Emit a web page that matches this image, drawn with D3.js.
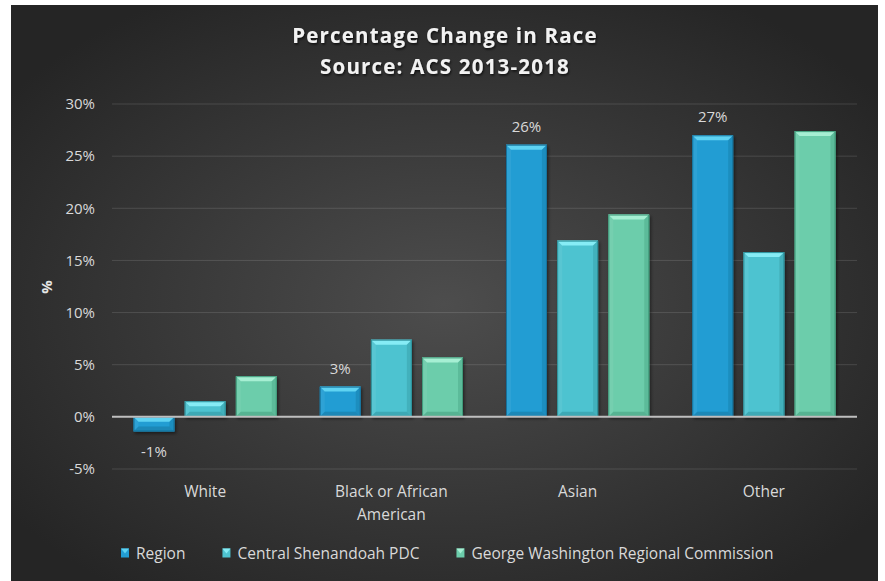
<!DOCTYPE html>
<html lang='en'>

<head>
    <meta charset='UTF-8'>
    <title>Percentage Change in Race</title>
    <script src="https://cdn.jsdelivr.net/npm/d3@7/dist/d3.min.js"></script>
    <style>
        body { margin: 0; background: #ffffff; }
        text { font-family: "Open Sans", "Noto Sans", sans-serif; }
    </style>
</head>

<body>
    <svg class="chart"></svg>
</body>
<script>
    /**
     * data
     */
    const categories = ["White", "Black or African American", "Asian", "Other"];
    const seriesNames = ["Region", "Central Shenandoah PDC", "George Washington Regional Commission"];
    const regionValues = [-1.4, 2.9, 26.1, 27.0];
    const centralShenandoahValues = [1.5, 7.4, 16.9, 15.8];
    const georgeWashingtonValues = [3.9, 5.7, 19.4, 27.4];
    const regionLabels = ["-1%", "3%", "26%", "27%"];
    const yTicks = [-5, 0, 5, 10, 15, 20, 25, 30];

    const allSeries = [regionValues, centralShenandoahValues, georgeWashingtonValues];

    /**
     * basic config
     */
    const svgWidth = 885;
    const svgHeight = 581;
    const colors = {
        "Region": { base: "#229dd3", top: "#5fd3f2", edge: "#16739c" },
        "Central Shenandoah PDC": { base: "#4ec3d0", top: "#86ecf5", edge: "#2d8f99" },
        "George Washington Regional Commission": { base: "#6ccdab", top: "#a6efd3", edge: "#3f9a7a" }
    };

    const svg = d3.select(".chart")
        .attr("width", svgWidth)
        .attr("height", svgHeight)
        .style("display", "block");

    const defs = svg.append("defs");
    const bg = defs.append("radialGradient")
        .attr("id", "bg")
        .attr("cx", "50%").attr("cy", "52%").attr("r", "62%");
    bg.append("stop").attr("offset", "0%").attr("stop-color", "#4d4d4d");
    bg.append("stop").attr("offset", "100%").attr("stop-color", "#252525");

    const shadow = defs.append("filter").attr("id", "shadow")
        .attr("x", "-20%").attr("y", "-20%").attr("width", "150%").attr("height", "150%");
    shadow.append("feDropShadow")
        .attr("dx", 1.5).attr("dy", 2).attr("stdDeviation", 1.8)
        .attr("flood-color", "#000").attr("flood-opacity", 0.45);

    const titleShadow = defs.append("filter").attr("id", "tshadow");
    titleShadow.append("feDropShadow")
        .attr("dx", 1).attr("dy", 1.5).attr("stdDeviation", 1.2)
        .attr("flood-color", "#000").attr("flood-opacity", 0.7);

    // chart background
    svg.append("rect")
        .attr("x", 11).attr("y", 5)
        .attr("width", 867).attr("height", 576)
        .attr("fill", "url(#bg)");

    /**
     * scales
     */
    const x = d3.scaleBand()
        .domain(categories)
        .range([112, 857]);

    const xSub = d3.scaleBand()
        .domain(seriesNames)
        .range([0, x.bandwidth()])
        .paddingInner(0.2)
        .paddingOuter(0.42);

    const y = d3.scaleLinear()
        .domain([-5, 30])
        .range([469, 104]);

    // gridlines
    svg.append("g")
        .selectAll("line")
        .data(yTicks.filter(d => d !== 0))
        .join("line")
        .attr("x1", 112).attr("x2", 857)
        .attr("y1", d => y(d)).attr("y2", d => y(d))
        .attr("stroke", "#ffffff")
        .attr("stroke-opacity", 0.13)
        .attr("stroke-width", 1);

    // y axis labels
    const yAxis = svg.append("g")
        .attr("transform", "translate(112,0)")
        .call(d3.axisLeft(y).tickValues(yTicks).tickSize(0).tickPadding(17).tickFormat(d => d + "%"));
    yAxis.select(".domain").remove();
    yAxis.selectAll("text")
        .attr("fill", "#d9d9d9")
        .style("font-size", "15px")
        .style("font-family", "'Open Sans', sans-serif");

    svg.append("text")
        .attr("transform", "translate(52,287) rotate(-90)")
        .attr("text-anchor", "middle")
        .attr("fill", "#e6e6e6")
        .style("font-size", "15px")
        .style("font-weight", "bold")
        .text("%");

    /**
     * bars
     */
    const bevel = 5;
    const barRows = [];
    seriesNames.forEach((s, si) => {
        categories.forEach((c, ci) => {
            barRows.push({ series: s, category: c, value: allSeries[si][ci] });
        });
    });

    const barGroups = svg.append("g")
        .selectAll("g")
        .data(barRows)
        .join("g")
        .attr("filter", "url(#shadow)");

    barGroups.each(function (d) {
        const g = d3.select(this);
        const c = colors[d.series];
        const x0 = x(d.category) + xSub(d.series);
        const w = xSub.bandwidth();
        const yTop = y(Math.max(0, d.value));
        const yBot = y(Math.min(0, d.value));
        const h = yBot - yTop;
        const b = Math.min(bevel, h / 2);

        g.append("rect")
            .attr("x", x0).attr("y", yTop)
            .attr("width", w).attr("height", h)
            .attr("fill", c.base);
        // top bevel
        g.append("polygon")
            .attr("points", [[x0, yTop], [x0 + w, yTop], [x0 + w - b, yTop + b], [x0 + b, yTop + b]].join(" "))
            .attr("fill", c.top);
        // side bevels
        g.append("polygon")
            .attr("points", [[x0 + w, yTop], [x0 + w, yBot], [x0 + w - b, yBot - b], [x0 + w - b, yTop + b]].join(" "))
            .attr("fill", c.edge).attr("fill-opacity", 0.35);
        g.append("polygon")
            .attr("points", [[x0, yTop], [x0, yBot], [x0 + b, yBot - b], [x0 + b, yTop + b]].join(" "))
            .attr("fill", "#ffffff").attr("fill-opacity", 0.06);
        g.append("polygon")
            .attr("points", [[x0, yBot], [x0 + w, yBot], [x0 + w - b, yBot - b], [x0 + b, yBot - b]].join(" "))
            .attr("fill", c.edge).attr("fill-opacity", 0.5);
        g.append("rect")
            .attr("x", x0 + 0.5).attr("y", yTop + 0.5)
            .attr("width", w - 1).attr("height", Math.max(0, h - 1))
            .attr("fill", "none")
            .attr("stroke", c.edge)
            .attr("stroke-width", 1);
    });

    // zero line
    svg.append("line")
        .attr("x1", 112).attr("x2", 857)
        .attr("y1", y(0)).attr("y2", y(0))
        .attr("stroke", "#bfbfbf")
        .attr("stroke-width", 2);

    // data labels (Region only)
    svg.append("g")
        .selectAll("text")
        .data(categories)
        .join("text")
        .attr("x", (c) => x(c) + xSub("Region") + xSub.bandwidth() / 2)
        .attr("y", (c, i) => regionValues[i] < 0 ? y(regionValues[i]) + 26 : y(regionValues[i]) - 13)
        .attr("text-anchor", "middle")
        .attr("fill", "#d9d9d9")
        .style("font-size", "15px")
        .text((c, i) => regionLabels[i]);

    // x category labels
    const xLabelLines = [["White"], ["Black or African", "American"], ["Asian"], ["Other"]];
    svg.append("g")
        .selectAll("text")
        .data(categories)
        .join("text")
        .attr("x", c => x(c) + x.bandwidth() / 2)
        .attr("y", 497)
        .attr("text-anchor", "middle")
        .attr("fill", "#d9d9d9")
        .style("font-size", "15.5px")
        .each(function (c, i) {
            d3.select(this).selectAll("tspan")
                .data(xLabelLines[i])
                .join("tspan")
                .attr("x", x(c) + x.bandwidth() / 2)
                .attr("dy", (t, j) => j === 0 ? 0 : 23)
                .text(t => t);
        });

    /**
     * title
     */
    const title = svg.append("g")
        .attr("filter", "url(#tshadow)");
    title.selectAll("text")
        .data(["Percentage Change in Race", "Source: ACS 2013-2018"])
        .join("text")
        .attr("x", 445)
        .attr("y", (d, i) => 43 + i * 31)
        .attr("text-anchor", "middle")
        .attr("fill", "#f2f2f2")
        .style("font-size", "20.5px")
        .style("font-weight", "bold")
        .style("letter-spacing", "1.2px")
        .text(d => d);

    /**
     * legend
     */
    const legend = svg.append("g").attr("transform", "translate(121,553)");
    let lx = 0;
    seriesNames.forEach(s => {
        const item = legend.append("g").attr("transform", `translate(${lx},0)`);
        const c = colors[s];
        item.append("rect")
            .attr("x", 0).attr("y", -4.5)
            .attr("width", 8).attr("height", 9)
            .attr("fill", c.base);
        item.append("polygon")
            .attr("points", [[0, -4.5], [8, -4.5], [4, 0.5]].join(" "))
            .attr("fill", c.top);
        const t = item.append("text")
            .attr("x", 15)
            .attr("y", 5.5)
            .attr("fill", "#d9d9d9")
            .style("font-size", "15.5px")
            .text(s);
        lx += 15 + t.node().getComputedTextLength() + 37;
    });

</script>

</html>
